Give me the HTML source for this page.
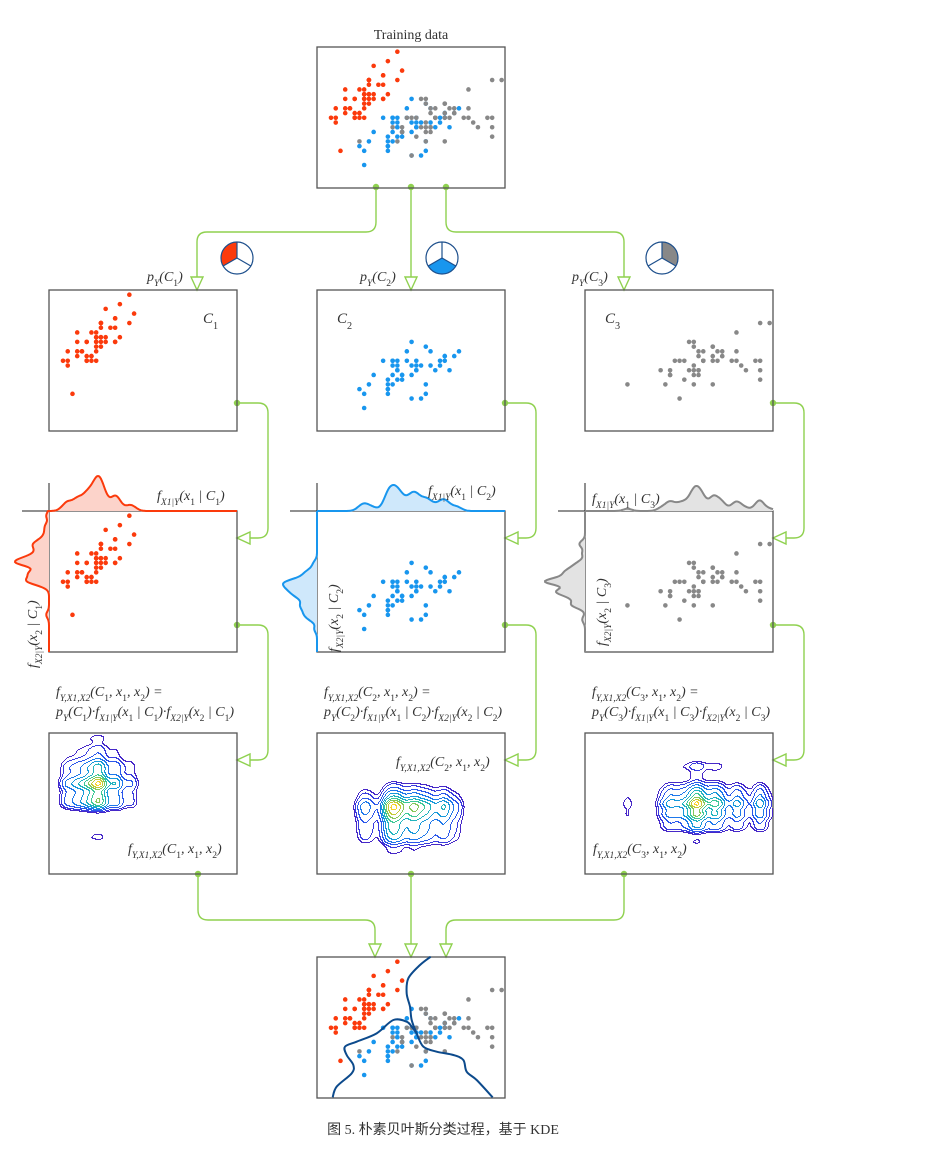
<!DOCTYPE html>
<html><head><meta charset="utf-8"><style>
body{margin:0;background:#fff;width:927px;height:1153px;overflow:hidden}
svg{display:block}
text{font-family:"Liberation Serif","Noto Serif CJK SC",serif;fill:#333}
</style></head><body>
<svg id="fig" width="927" height="1153" viewBox="0 0 927 1153" xmlns="http://www.w3.org/2000/svg">
<g id="conn"></g>
<g id="boxes"></g>
<g id="labels"></g>
<text x="443" y="1134" text-anchor="middle" font-size="14" style="font-family:'Liberation Serif','Noto Sans CJK SC',serif">图 5. 朴素贝叶斯分类过程，基于 KDE</text>
</svg>
<script>
// Iris sepal length (x1) / sepal width (x2)
const c1x=[5.1,4.9,4.7,4.6,5.0,5.4,4.6,5.0,4.4,4.9,5.4,4.8,4.8,4.3,5.8,5.7,5.4,5.1,5.7,5.1,5.4,5.1,4.6,5.1,4.8,5.0,5.0,5.2,5.2,4.7,4.8,5.4,5.2,5.5,4.9,5.0,5.5,4.9,4.4,5.1,5.0,4.5,4.4,5.0,5.1,4.8,5.1,4.6,5.3,5.0];
const c1y=[3.5,3.0,3.2,3.1,3.6,3.9,3.4,3.4,2.9,3.1,3.7,3.4,3.0,3.0,4.0,4.4,3.9,3.5,3.8,3.8,3.4,3.7,3.6,3.3,3.4,3.0,3.4,3.5,3.4,3.2,3.1,3.4,4.1,4.2,3.1,3.2,3.5,3.6,3.0,3.4,3.5,2.3,3.2,3.5,3.8,3.0,3.8,3.2,3.7,3.3];
const c2x=[7.0,6.4,6.9,5.5,6.5,5.7,6.3,4.9,6.6,5.2,5.0,5.9,6.0,6.1,5.6,6.7,5.6,5.8,6.2,5.6,5.9,6.1,6.3,6.1,6.4,6.6,6.8,6.7,6.0,5.7,5.5,5.5,5.8,6.0,5.4,6.0,6.7,6.3,5.6,5.5,5.5,6.1,5.8,5.0,5.6,5.7,5.7,6.2,5.1,5.7];
const c2y=[3.2,3.2,3.1,2.3,2.8,2.8,3.3,2.4,2.9,2.7,2.0,3.0,2.2,2.9,2.9,3.1,3.0,2.7,2.2,2.5,3.2,2.8,2.5,2.8,2.9,3.0,2.8,3.0,2.9,2.6,2.4,2.4,2.7,2.7,3.0,3.4,3.1,2.3,3.0,2.5,2.6,3.0,2.6,2.3,2.7,3.0,2.9,2.9,2.5,2.8];
const c3x=[6.3,5.8,7.1,6.3,6.5,7.6,4.9,7.3,6.7,7.2,6.5,6.4,6.8,5.7,5.8,6.4,6.5,7.7,7.7,6.0,6.9,5.6,7.7,6.3,6.7,7.2,6.2,6.1,6.4,7.2,7.4,7.9,6.4,6.3,6.1,7.7,6.3,6.4,6.0,6.9,6.7,6.9,5.8,6.8,6.7,6.7,6.3,6.5,6.2,5.9];
const c3y=[3.3,2.7,3.0,2.9,3.0,3.0,2.5,2.9,2.5,3.6,3.2,2.7,3.0,2.5,2.8,3.2,3.0,3.8,2.6,2.2,3.2,2.8,2.8,2.7,3.3,3.2,2.8,3.0,2.8,3.0,2.8,3.8,2.8,2.8,2.6,3.0,3.4,3.1,3.0,3.1,3.1,3.1,2.7,3.2,3.3,3.0,2.5,3.0,3.4,3.0];
const classX=[c1x,c2x,c3x], classY=[c1y,c2y,c3y];
const classNames=['C1','C2','C3'];
const priors=[1/3,1/3,1/3];
const COL=['#fb3a0c','#1896ee','#888888'];
const FILL=['#fcd3ca','#cfe8fb','#e3e3e3'];
const NS='http://www.w3.org/2000/svg';
const svg=document.getElementById('fig');
const G={conn:document.getElementById('conn'),boxes:document.getElementById('boxes'),labels:document.getElementById('labels')};
function el(tag,attrs,parent){const e=document.createElementNS(NS,tag);for(const k in attrs)e.setAttribute(k,attrs[k]);(parent||svg).appendChild(e);return e;}
const BW=188,BH=141;
function sx(bx,v){return bx+14+(v-4.3)*47.4;}
function sy(by,v){return by+118-(v-2.0)*47.2;}
function kde(data,v,h){let s=0;for(const d of data){const z=(v-d)/h;s+=Math.exp(-0.5*z*z);}return s/(data.length*h*2.5066);}
function box(x,y,name,stroke){const r=el('rect',{x:x,y:y,width:BW,height:BH,fill:'none',stroke:stroke||'#555','stroke-width':1.3},G.boxes);

return r;}
function scatter(bx,by,classes,parent){for(const c of classes){const g=el('g',{},parent||G.boxes);


for(let i=0;i<classX[c].length;i++){el('circle',{cx:sx(bx,classX[c][i]),cy:sy(by,classY[c][i]),r:2.3,fill:COL[c]},g);}}}
function mtext(x,y,str,opts){opts=opts||{};const t=el('text',{x:x,y:y,'font-size':opts.size||14,'font-style':'italic','text-anchor':opts.anchor||'start'},G.labels);
if(opts.rot)t.setAttribute('transform','rotate('+opts.rot+' '+x+' '+y+')');


const re=/_\{([^}]*)\}/g;let last=0,m;
while((m=re.exec(str))){if(m.index>last){const s=el('tspan',{},t);s.textContent=str.slice(last,m.index);}
const s=el('tspan',{'font-size':(opts.size||14)*0.68,'baseline-shift':'sub'},t);if(/^\d$/.test(m[1]))s.setAttribute('font-style','normal');s.textContent=m[1];last=re.lastIndex;}
if(last<str.length){const s=el('tspan',{},t);s.textContent=str.slice(last);}return t;}

const GR='#8fd14f';
function path(d,name){const p=el('path',{d:d,fill:'none',stroke:GR,'stroke-width':1.4},G.conn);

}
function dot(x,y){el('circle',{cx:x,cy:y,r:3.2,fill:GR},G.conn);}
function arrowDown(x,y){el('path',{d:`M${x-6},${y-13} L${x+6},${y-13} L${x},${y} Z`,fill:'#fff',stroke:GR,'stroke-width':1.4},G.conn);}
function arrowLeft(x,y){el('path',{d:`M${x+13},${y-6} L${x+13},${y+6} L${x},${y} Z`,fill:'#fff',stroke:GR,'stroke-width':1.4},G.conn);}
const colX=[49,317,585];
path('M376,187 V222 Q376,232 366,232 H207 Q197,232 197,242 V290','conn-top-c1');
path('M411,187 V290','conn-top-c2');
path('M446,187 V222 Q446,232 456,232 H614 Q624,232 624,242 V290','conn-top-c3');
dot(376,187);dot(411,187);dot(446,187);
arrowDown(197,290);arrowDown(411,290);arrowDown(624,290);
for(let c=0;c<3;c++){const bx=colX[c]+BW;
path(`M${bx},403 H${bx+21} Q${bx+31},403 ${bx+31},413 V528 Q${bx+31},538 ${bx+21},538 H${bx+2}`,'conn-row2-'+c);
dot(bx,403);arrowLeft(bx,538);
path(`M${bx},625 H${bx+21} Q${bx+31},625 ${bx+31},635 V750 Q${bx+31},760 ${bx+21},760 H${bx+2}`,'conn-row3-'+c);
dot(bx,625);arrowLeft(bx,760);}
path('M198,874 V910 Q198,920 208,920 H365 Q375,920 375,930 V957','conn-bottom-c1');
path('M411,874 V957','conn-bottom-c2');
path('M624,874 V910 Q624,920 614,920 H456 Q446,920 446,930 V957','conn-bottom-c3');
dot(198,874);dot(411,874);dot(624,874);
arrowDown(375,957);arrowDown(411,957);arrowDown(446,957);

el('text',{x:411,y:39,'text-anchor':'middle','font-size':14},G.labels).textContent='Training data';
box(317,47,'training-data-box');scatter(317,47,[0,1,2]);

const pieCx=[237,442,662];
for(let c=0;c<3;c++){const cx=pieCx[c],cy=258,r=16;const g=el('g',{},G.labels);


const P=a=>[cx+r*Math.sin(a),cy-r*Math.cos(a)];
const angs=[0,2*Math.PI/3,4*Math.PI/3];
const sect=[[4*Math.PI/3,2*Math.PI],[2*Math.PI/3,4*Math.PI/3],[0,2*Math.PI/3]][c];
const a0=P(sect[0]),a1=P(sect[1]);
el('path',{d:`M${cx},${cy} L${a0[0]},${a0[1]} A${r},${r} 0 0 1 ${a1[0]},${a1[1]} Z`,fill:COL[c]},g);
el('circle',{cx:cx,cy:cy,r:r,fill:'none',stroke:'#1d4f8c','stroke-width':1.2},g);
for(const a of angs){const p=P(a);el('line',{x1:cx,y1:cy,x2:p[0],y2:p[1],stroke:'#1d4f8c','stroke-width':1.2},g);}}

for(let c=0;c<3;c++){const bx=colX[c],by=290;box(bx,by,'class-box-'+classNames[c]);scatter(bx,by,[c]);
mtext([147,360,572][c],281,'p_{Y}(C_{'+(c+1)+'})',{name:'prior-label-'+classNames[c]});
mtext([203,337,605][c],323,'C_{'+(c+1)+'}',{name:'class-label-'+classNames[c],size:15});}

const topPeak=[35,26,25],leftPeak=[34,34,40];
for(let c=0;c<3;c++){const bx=colX[c],by=511;
box(bx,by,'marginal-box-'+classNames[c]);
scatter(bx,by,[c]);
el('line',{x1:bx-27,y1:by,x2:bx,y2:by,stroke:'#222','stroke-width':1},G.boxes);
el('line',{x1:bx,y1:by-28,x2:bx,y2:by,stroke:'#222','stroke-width':1},G.boxes);
let vals=[],mx=0;for(let px=0;px<=BW;px++){const v=kde(classX[c],4.3+(px-14)/47.4,0.09);vals.push(v);if(v>mx)mx=v;}
let d=`M${bx},${by}`;vals.forEach((v,i)=>{d+=` L${bx+i},${(by-v/mx*topPeak[c]).toFixed(1)}`;});
const tf=el('path',{d:d+` L${bx+BW},${by} Z`,fill:FILL[c],stroke:'none'},G.boxes);


const tl=el('path',{d:d,fill:'none',stroke:COL[c],'stroke-width':2},G.boxes);


vals=[];mx=0;for(let py=0;py<=BH;py++){const v=kde(classY[c],2.0+(118-py)/47.2,0.07);vals.push(v);if(v>mx)mx=v;}
d=`M${bx},${by}`;vals.forEach((v,i)=>{d+=` L${(bx-v/mx*leftPeak[c]).toFixed(1)},${by+i}`;});
const lf=el('path',{d:d+` L${bx},${by+BH} Z`,fill:FILL[c],stroke:'none'},G.boxes);


const ll=el('path',{d:d,fill:'none',stroke:COL[c],'stroke-width':2},G.boxes);


mtext([157,428,592][c],[500,495,503][c],'f_{X1|Y}(x_{1} | C_{'+(c+1)+'})',{name:'kde-x1-label-'+classNames[c]});
mtext([37,338,606][c],[668,652,646][c],'f_{X2|Y}(x_{2} | C_{'+(c+1)+'})',{rot:-90,name:'kde-x2-label-'+classNames[c]});
mtext(bx+7,696,'f_{Y,X1,X2}(C_{'+(c+1)+'}, x_{1}, x_{2}) =',{name:'joint-formula-'+classNames[c]});
mtext(bx+7,716,'p_{Y}(C_{'+(c+1)+'})·f_{X1|Y}(x_{1} | C_{'+(c+1)+'})·f_{X2|Y}(x_{2} | C_{'+(c+1)+'})',{name:'joint-product-'+classNames[c]});}

const LEVELS=10;
function parula(t){const s=[[70,40,200],[50,70,235],[30,120,235],[20,170,210],[60,200,150],[170,200,60],[250,210,40]];const f=t*(s.length-1),i=Math.min(s.length-2,Math.floor(f)),u=f-i;return 'rgb('+s[i].map((v,k)=>Math.round(v+(s[i+1][k]-v)*u)).join(',')+')';}
for(let c=0;c<3;c++){const bx=colX[c],by=733;box(bx,by,'joint-box-'+classNames[c]);
const fx=[],fy=[];for(let px=0;px<=BW;px++)fx.push(kde(classX[c],4.3+(px-14)/47.4,0.1));
for(let py=0;py<=BH;py++)fy.push(kde(classY[c],2.0+(118-py)/47.2,0.08));
let mx=0;for(const a of fx)for(const b of fy)if(a*b>mx)mx=a*b;
const lv=[];for(let k=0;k<LEVELS;k++)lv.push(mx*(0.06+0.9*Math.pow(k/(LEVELS-1),1.5)));
const segs=lv.map(()=>'');
for(let j=0;j<BH;j++)for(let i=0;i<BW;i++){const v=fx[i]*fy[j],vr=fx[i+1]*fy[j],vd=fx[i]*fy[j+1];
for(let k=0;k<LEVELS;k++){const L=lv[k];if((v-L)*(vr-L)<0||(v-L)*(vd-L)<0){segs[k]+=`M${bx+i},${by+j+0.5}h1`;}}}
const g=el('g',{},G.boxes);


segs.forEach((s,k)=>{if(s)el('path',{d:s,stroke:parula(k/(LEVELS-1)),'stroke-width':0.9,fill:'none'},g);});
const lp=[[128,853],[396,766],[593,853]][c];
mtext(lp[0],lp[1],'f_{Y,X1,X2}(C_{'+(c+1)+'}, x_{1}, x_{2})',{name:'joint-label-'+classNames[c]});}

box(317,957,'decision-boundary-box');scatter(317,957,[0,1,2]);
const b1=[[362,50],[330,75],[295,115],[290,160],[300,200],[305,240],[320,280],[340,320],[380,335],[430,345],[460,360],[470,395],[500,420],[548,472]];
const b2=[[68,472],[80,440],[125,400],[130,375],[110,345],[105,320],[140,305],[200,280],[250,240],[290,245],[305,260],[320,280]];
function smooth(pts){const P=pts.map(p=>[p[0]/3+310,p[1]/3+940]);let d=`M${P[0][0]},${P[0][1]}`;
for(let i=0;i<P.length-1;i++){const p0=P[Math.max(0,i-1)],p1=P[i],p2=P[i+1],p3=P[Math.min(P.length-1,i+2)];
d+=` C${p1[0]+(p2[0]-p0[0])/6},${p1[1]+(p2[1]-p0[1])/6} ${p2[0]-(p3[0]-p1[0])/6},${p2[1]-(p3[1]-p1[1])/6} ${p2[0]},${p2[1]}`;}return d;}
const db1=el('path',{d:smooth(b1),fill:'none',stroke:'#0c4a8c','stroke-width':2},G.boxes);


const db2=el('path',{d:smooth(b2),fill:'none',stroke:'#0c4a8c','stroke-width':2},G.boxes);


</script>
</body></html>
